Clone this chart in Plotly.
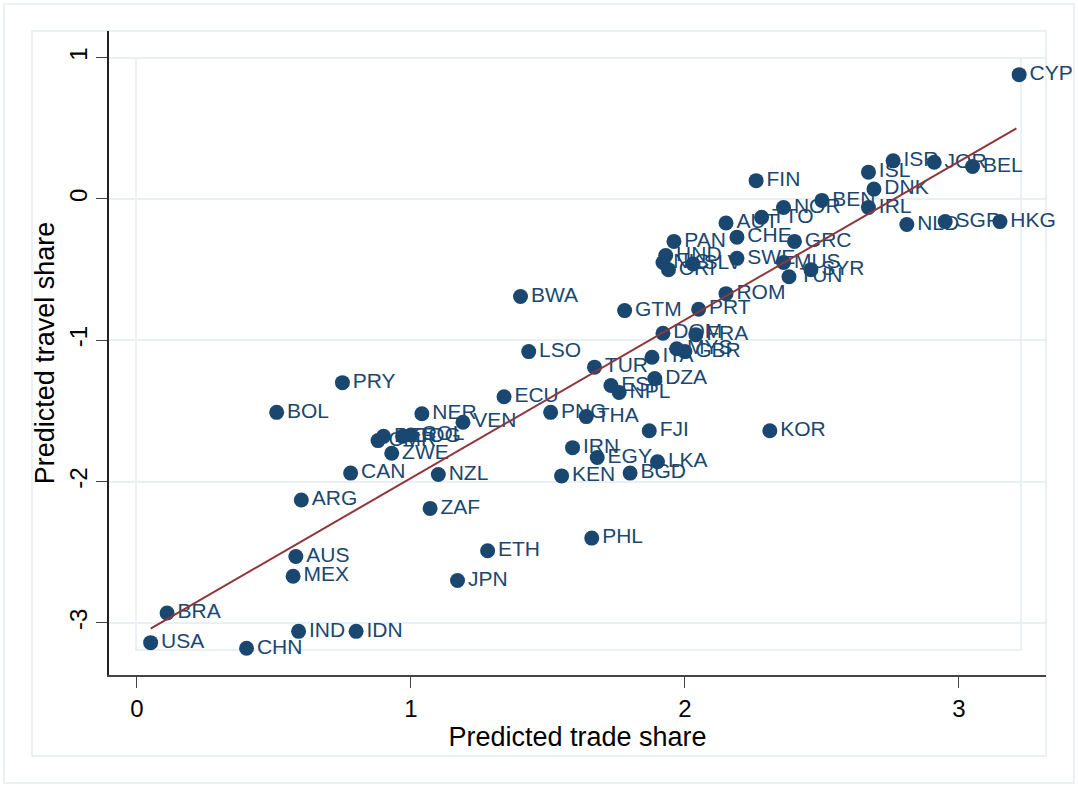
import plotly.graph_objects as go

# Country codes and their predicted shares
countries = [
    "CYP", "ISR", "JOR", "BEL", "ISL", "DNK", "BEN", "IRL", "NOR", "FIN",
    "NLD", "SGP", "HKG", "AUT", "TTO", "CHE", "PAN", "GRC", "HND", "NIC",
    "CRI", "SLV", "SWE", "MUS", "SYR", "TUN", "ROM", "BWA", "GTM", "PRT",
    "DOM", "FRA", "MYS", "GBR", "ITA", "LSO", "TUR", "DZA", "ESP", "NPL",
    "PRY", "ECU", "BOL", "NER", "VEN", "PNG", "THA", "FJI", "KOR", "CMR",
    "PER", "COG", "COL", "IRN", "ZWE", "EGY", "LKA", "CAN", "NZL", "KEN",
    "BGD", "ARG", "ZAF", "PHL", "ETH", "AUS", "MEX", "JPN", "BRA", "USA",
    "CHN", "IND", "IDN",
]
trade_share = [
    3.22, 2.76, 2.91, 3.05, 2.67, 2.69, 2.50, 2.67, 2.36, 2.26,
    2.81, 2.95, 3.15, 2.15, 2.28, 2.19, 1.96, 2.40, 1.93, 1.92,
    1.94, 2.03, 2.19, 2.36, 2.46, 2.38, 2.15, 1.40, 1.78, 2.05,
    1.92, 2.04, 1.97, 2.00, 1.88, 1.43, 1.67, 1.89, 1.73, 1.76,
    0.75, 1.34, 0.51, 1.04, 1.19, 1.51, 1.64, 1.87, 2.31, 0.88,
    0.90, 0.97, 1.00, 1.59, 0.93, 1.68, 1.90, 0.78, 1.10, 1.55,
    1.80, 0.60, 1.07, 1.66, 1.28, 0.58, 0.57, 1.17, 0.11, 0.05,
    0.40, 0.59, 0.80,
]
travel_share = [
    0.88, 0.27, 0.26, 0.23, 0.19, 0.07, -0.01, -0.06, -0.06, 0.13,
    -0.18, -0.16, -0.16, -0.17, -0.13, -0.27, -0.30, -0.30, -0.40, -0.45,
    -0.50, -0.46, -0.42, -0.45, -0.50, -0.55, -0.67, -0.69, -0.79, -0.78,
    -0.95, -0.96, -1.06, -1.08, -1.12, -1.08, -1.19, -1.27, -1.32, -1.37,
    -1.30, -1.40, -1.51, -1.52, -1.58, -1.51, -1.54, -1.64, -1.64, -1.71,
    -1.68, -1.68, -1.67, -1.76, -1.80, -1.83, -1.86, -1.94, -1.95, -1.96,
    -1.94, -2.13, -2.19, -2.40, -2.49, -2.53, -2.67, -2.70, -2.93, -3.14,
    -3.18, -3.06, -3.06,
]

# Fitted line endpoints
fit_x = [0.05, 3.21]
fit_y = [-3.04, 0.50]

x_ticks = [0, 1, 2, 3]
y_ticks = [1, 0, -1, -2, -3]

navy = "#1a476f"
maroon = "#90353b"
frame = "#e4ecef"
grid = "#e9f0f2"

fig = go.Figure()
fig.add_trace(go.Scatter(
    x=trade_share, y=travel_share, text=countries,
    mode="markers+text", textposition="middle right",
    marker=dict(size=15, color=navy, line=dict(width=0)),
    textfont=dict(family="Liberation Sans, Arial, sans-serif", size=21, color=navy),
    cliponaxis=False, hoverinfo="text", showlegend=False,
))
fig.add_trace(go.Scatter(
    x=fit_x, y=fit_y, mode="lines",
    line=dict(color=maroon, width=2), showlegend=False, hoverinfo="skip",
))

W, H = 1078, 786
L, R, T, B = 109, 1046, 31, 675


def px(xp):
    return (xp - L) / (R - L)


def py(yp):
    return (B - yp) / (B - T)


shapes = [
    # outer border
    dict(type="rect", xref="paper", yref="paper", x0=px(4), x1=px(1074), y0=py(783), y1=py(4),
         line=dict(color=frame, width=1.5), layer="below"),
    # graph region border
    dict(type="rect", xref="paper", yref="paper", x0=px(32), x1=px(1046), y0=py(756), y1=py(31),
         line=dict(color=frame, width=1.5), layer="below"),
    # inner plot region border
    dict(type="rect", xref="paper", yref="paper", x0=px(136), x1=px(1021), y0=py(650), y1=py(58),
         line=dict(color=frame, width=1.5), layer="below"),
]

font = "Liberation Sans, Arial, sans-serif"
fig.update_layout(
    width=W, height=H,
    margin=dict(l=L, r=W - R, t=T, b=H - B),
    paper_bgcolor="white", plot_bgcolor="white",
    shapes=shapes,
    font=dict(family=font, color="black"),
    xaxis=dict(
        range=[-0.102, 3.318], tickvals=x_ticks, ticktext=[str(v) for v in x_ticks],
        showgrid=False, zeroline=False, showline=True, linecolor="#444", linewidth=2,
        ticks="outside", ticklen=11, tickcolor="#444", tickwidth=1,
        tickfont=dict(size=24, family=font),
        title=dict(text="Predicted trade share", font=dict(size=27, family=font), standoff=1),
    ),
    yaxis=dict(
        range=[-3.369, 1.189], tickvals=y_ticks, ticktext=[str(v) for v in y_ticks],
        tickangle=-90,
        showgrid=True, gridcolor=grid, gridwidth=2, zeroline=False,
        showline=True, linecolor="#222", linewidth=1.5,
        ticks="outside", ticklen=11, tickcolor="#444", tickwidth=1,
        tickfont=dict(size=24, family=font),
        title=dict(text="Predicted travel share", font=dict(size=27, family=font), standoff=2),
    ),
)

fig.write_html("out.html")
